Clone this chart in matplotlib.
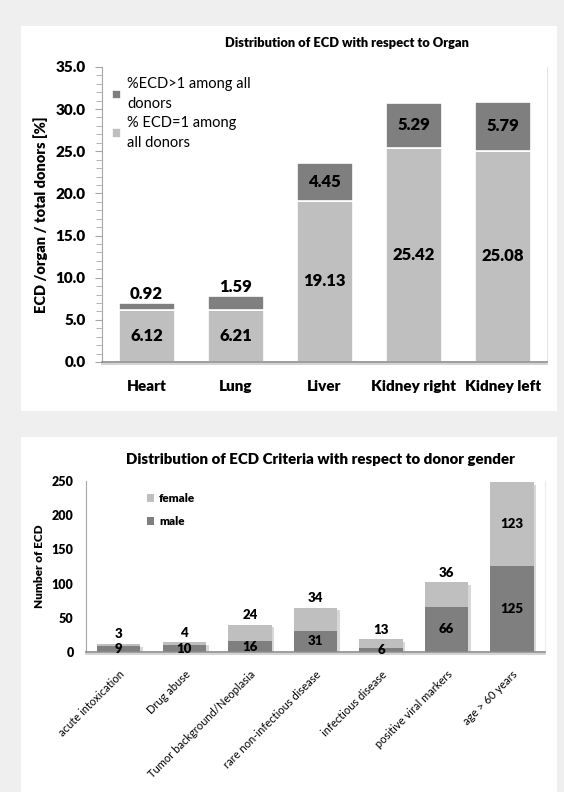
import numpy as np
import matplotlib
matplotlib.use("Agg")
import matplotlib.pyplot as plt
from matplotlib.patches import Rectangle
from matplotlib.ticker import MultipleLocator
import matplotlib.patheffects as pe

plt.rcParams['font.family'] = ['Lato', 'DejaVu Sans']
BOLD = "heavy"

# --- data: panel 1 (organ) ---
organs = ["Heart", "Lung", "Liver", "Kidney right", "Kidney left"]
ecd_eq1 = [6.12, 6.21, 19.13, 25.42, 25.08]
ecd_gt1 = [0.92, 1.59, 4.45, 5.29, 5.79]

# --- data: panel 2 (gender) ---
criteria = ["acute intoxication", "Drug abuse", "Tumor background/Neoplasia",
            "rare non-infectious disease", "infectious disease",
            "positive viral markers", "age > 60 years"]
male = [9, 10, 16, 31, 6, 66, 125]
female = [3, 4, 24, 34, 13, 36, 123]

DARK = "#7f7f7f"
LIGHT = "#bfbfbf"
AXCOL = "#a6a6a6"

fig = plt.figure(figsize=(5.64, 7.92), dpi=100)
fig.patch.set_facecolor("#efefef")
# white panels (behind the axes)
fig.patches.append(Rectangle((0.037, 0.481), 0.951, 0.486, transform=fig.transFigure,
                             facecolor="white", edgecolor="none", zorder=-5))
fig.patches.append(Rectangle((0.037, 0.0), 0.951, 0.448, transform=fig.transFigure,
                             facecolor="white", edgecolor="none", zorder=-5))

# ---------------- panel 1 ----------------
ax1 = fig.add_axes([0.181, 0.543, 0.789, 0.3725])
ax1.set_facecolor("none")
x1 = np.arange(len(organs))
w1 = 0.63
ax1.bar(x1, ecd_eq1, w1, color=LIGHT, edgecolor="white", linewidth=1.2,
        label="% ECD=1 among\nall donors", zorder=2)
ax1.bar(x1, ecd_gt1, w1, bottom=ecd_eq1, color=DARK, edgecolor="white",
        linewidth=1.2, label="%ECD>1 among all\ndonors", zorder=2)

for i in range(len(organs)):
    ax1.text(x1[i], ecd_eq1[i] / 2, f"{ecd_eq1[i]:.2f}", ha="center", va="center",
             fontsize=12, fontweight=BOLD)
    if ecd_gt1[i] < 2:
        ax1.text(x1[i], ecd_eq1[i] + ecd_gt1[i] + 0.1, f"{ecd_gt1[i]:.2f}",
                 ha="center", va="bottom", fontsize=12, fontweight=BOLD)
    else:
        ax1.text(x1[i], ecd_eq1[i] + ecd_gt1[i] / 2, f"{ecd_gt1[i]:.2f}",
                 ha="center", va="center", fontsize=12, fontweight=BOLD)

ax1.set_xlim(-0.5, len(organs) - 0.5)
ax1.set_ylim(0, 35)
ax1.yaxis.set_minor_locator(MultipleLocator(1))
ax1.set_yticks(np.arange(0, 36, 5))
ax1.set_yticklabels([f"{v:.1f}" for v in np.arange(0, 36, 5)], fontsize=11, fontweight=BOLD)
ax1.set_xticks(x1)
ax1.set_xticklabels(organs, fontsize=11, fontweight=BOLD)
ax1.tick_params(axis="x", length=0, pad=13)
ax1.tick_params(axis="y", which="major", length=5, color=AXCOL, pad=7)
ax1.tick_params(axis="y", which="minor", length=4, color=AXCOL)
ax1.spines["top"].set_visible(False)
ax1.spines["right"].set_color("#e4e4e4")
ax1.spines["left"].set_color(AXCOL)
ax1.spines["bottom"].set_color("#8c8c8c")
ax1.spines["bottom"].set_linewidth(1.2)
ax1.spines["bottom"].set_path_effects([pe.SimpleLineShadow(offset=(0, -1.5), shadow_color="gray", alpha=0.4), pe.Normal()])
ax1.set_ylabel("ECD /organ / total donors [%]", fontsize=10.5, fontweight=BOLD, labelpad=5)
ax1.set_title("Distribution of ECD with respect to Organ", fontsize=9.3, fontweight=BOLD,
              pad=14, x=0.55)
h, l = ax1.get_legend_handles_labels()
leg1 = ax1.legend(h[::-1], l[::-1], loc="upper left", bbox_to_anchor=(0.0, 1.0), frameon=False,
                  fontsize=10.5, handlelength=0.6, handleheight=0.6, handletextpad=0.4,
                  labelspacing=0.3, borderaxespad=0.3)
for t in leg1.get_texts():
    t.set_linespacing(1.55)

# ---------------- panel 2 ----------------
ax2 = fig.add_axes([0.1525, 0.1768, 0.8135, 0.2159])
ax2.set_facecolor("none")
x2 = np.arange(len(criteria))
w2 = 0.66
bm = ax2.bar(x2, male, w2, color=DARK, edgecolor="none", label="male", zorder=2)
bf = ax2.bar(x2, female, w2, bottom=male, color=LIGHT, edgecolor="none", label="female", zorder=2)

for i in range(len(criteria)):
    ax2.text(x2[i], male[i] / 2, str(male[i]), ha="center", va="center",
             fontsize=9.5, fontweight=BOLD, zorder=3)
    if female[i] > 60:
        ax2.text(x2[i], male[i] + female[i] / 2, str(female[i]), ha="center", va="center",
                 fontsize=9.5, fontweight=BOLD, zorder=3)
    else:
        ax2.text(x2[i], male[i] + female[i] + 5, str(female[i]), ha="center", va="bottom",
                 fontsize=9.5, fontweight=BOLD, zorder=3)

ax2.set_xlim(-0.5, len(criteria) - 0.5)
ax2.set_ylim(0, 250)
ax2.set_yticks(np.arange(0, 251, 50))
ax2.set_yticklabels([str(v) for v in range(0, 251, 50)], fontsize=9, fontweight=BOLD)
ax2.set_xticks(x2)
ax2.set_xticklabels(criteria, rotation=45, ha="right", rotation_mode="anchor", fontsize=8)
ax2.tick_params(axis="x", length=0, pad=12)
ax2.tick_params(axis="y", length=0, pad=9)
ax2.spines["top"].set_visible(False)
ax2.spines["right"].set_color("#ececec")
ax2.spines["left"].set_color(AXCOL)
ax2.spines["bottom"].set_color("#8c8c8c")
ax2.spines["bottom"].set_linewidth(1.2)
ax2.spines["bottom"].set_path_effects([pe.SimpleLineShadow(offset=(0, -1.5), shadow_color="gray", alpha=0.4), pe.Normal()])
ax2.set_ylabel("Number of ECD", fontsize=8.5, fontweight=BOLD, labelpad=5)
ax2.set_title("Distribution of ECD Criteria with respect to donor gender", fontsize=10.8,
              fontweight=BOLD, pad=12, x=0.51)
h2, l2 = ax2.get_legend_handles_labels()
ax2.legend(h2[::-1], l2[::-1], loc="upper left", bbox_to_anchor=(0.11, 0.99), frameon=False,
           prop={"weight": BOLD, "size": 8.5}, handlelength=0.6, handleheight=0.6,
           handletextpad=0.4, labelspacing=1.0)

# drop shadows on the gender bars (added after the legend so handles stay flat)
shadow = [pe.SimplePatchShadow(offset=(2, -2), shadow_rgbFace="gray", alpha=0.3), pe.Normal()]
for b in list(bm) + list(bf):
    b.set_path_effects(shadow)

fig.savefig("out.png", dpi=100, facecolor=fig.get_facecolor())
